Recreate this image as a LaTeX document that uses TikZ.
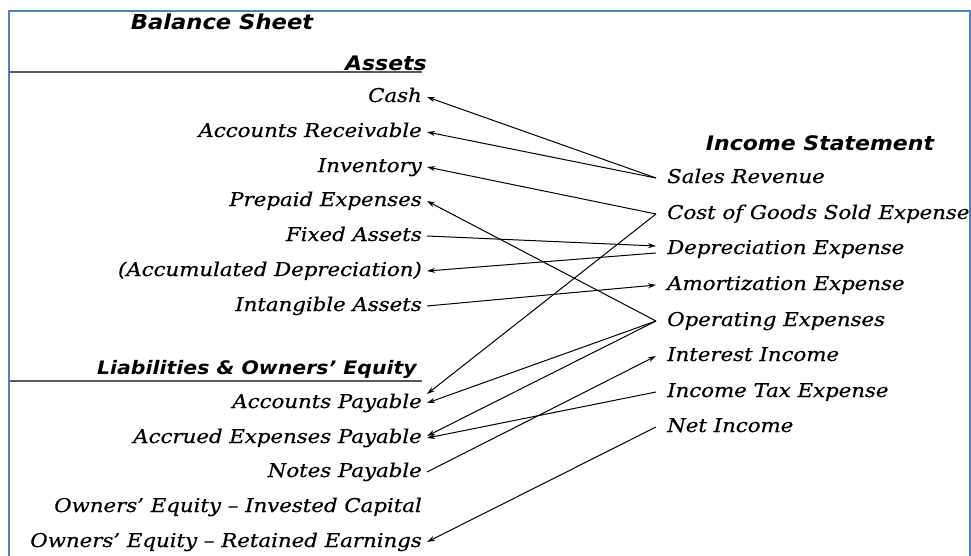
\documentclass[tikz,border=0pt]{standalone}
\usepackage{fontspec}
\newfontfamily\entryfont[FakeStretch=1.12,FakeBold=0.5]{DejaVu Serif}
\newfontfamily\headfont[FakeStretch=1.1]{DejaVu Sans}
\usetikzlibrary{arrows.meta}
\definecolor{frameblue}{RGB}{79,129,189}
\definecolor{rulegray}{RGB}{90,90,90}

\begin{document}
\begin{tikzpicture}[x=1pt,y=-1pt,
  acct/.style={anchor=east,inner xsep=5pt,inner ysep=0pt,text height=12pt,text depth=2pt,
    font=\entryfont\itshape\fontsize{19}{21}\selectfont},
  inc/.style={anchor=west,inner xsep=11pt,inner ysep=0pt,text height=12pt,text depth=2pt,
    font=\entryfont\itshape\fontsize{19}{21}\selectfont},
  head/.style={inner sep=0pt,font=\headfont\bfseries\itshape\fontsize{20}{22}\selectfont}]
\useasboundingbox (0,0) rectangle (971,556);

% headings
\node[head] (bs) at (222,22) {\fontsize{20.6}{22}\selectfont Balance Sheet};
\node[head,anchor=east] (assets) at (427,63) {Assets};
\node[head,anchor=east] (liab) at (417,369) {\fontsize{18.6}{22}\selectfont Liabilities \& Owners’ Equity};
\node[head] (is) at (820,143) {Income Statement};
\draw[rulegray,line width=1.2pt] (9,72) -- (422,72);
\draw[rulegray,line width=1.2pt] (9,381) -- (422,381);

% balance sheet
\node[acct] (cash) at (427,97) {Cash};
\node[acct] (recv) at (427,132) {Accounts Receivable};
\node[acct] (inv) at (427,167) {Inventory};
\node[acct] (prep) at (427,201) {Prepaid Expenses};
\node[acct] (fixed) at (427,236) {Fixed Assets};
\node[acct] (accum) at (427,271) {(Accumulated Depreciation)};
\node[acct] (intang) at (427,306) {Intangible Assets};
\node[acct] (ap) at (427,403) {Accounts Payable};
\node[acct] (accr) at (427,438) {Accrued Expenses Payable};
\node[acct] (notes) at (427,472) {Notes Payable};
\node[acct] (oeic) at (427,507) {Owners’ Equity – Invested Capital};
\node[acct] (oere) at (427,542) {Owners’ Equity – Retained Earnings};

% income statement
\node[inc] (sales) at (656,178) {Sales Revenue};
\node[inc] (cogs) at (656,214) {Cost of Goods Sold Expense};
\node[inc] (depr) at (656,249) {Depreciation Expense};
\node[inc] (amort) at (656,285) {Amortization Expense};
\node[inc] (opex) at (656,321) {Operating Expenses};
\node[inc] (inter) at (656,356) {Interest Income};
\node[inc] (tax) at (656,392) {Income Tax Expense};
\node[inc] (net) at (656,427) {Net Income};

\path[->,>={Stealth[length=8pt,width=5pt]},line width=1pt]
(sales.west) edge (cash.east)
(sales.west) edge (recv.east)
(cogs.west) edge (inv.east)
(cogs.west) edge ([yshift=9pt]ap.east)
(fixed.east) edge ([yshift=3pt]depr.west)
([yshift=-4pt]depr.west) edge (accum.east)
(intang.east) edge (amort.west)
(opex.west) edge (prep.east)
(opex.west) edge (ap.east)
(opex.west) edge ([yshift=2pt]accr.east)
(tax.west) edge (accr.east)
(notes.east) edge (inter.west)
(net.west) edge (oere.east);

% frame
\draw[frameblue,line width=2pt] (9,556) -- (9,11) -- (970,11) -- (970,556);
\end{tikzpicture}
\end{document}
